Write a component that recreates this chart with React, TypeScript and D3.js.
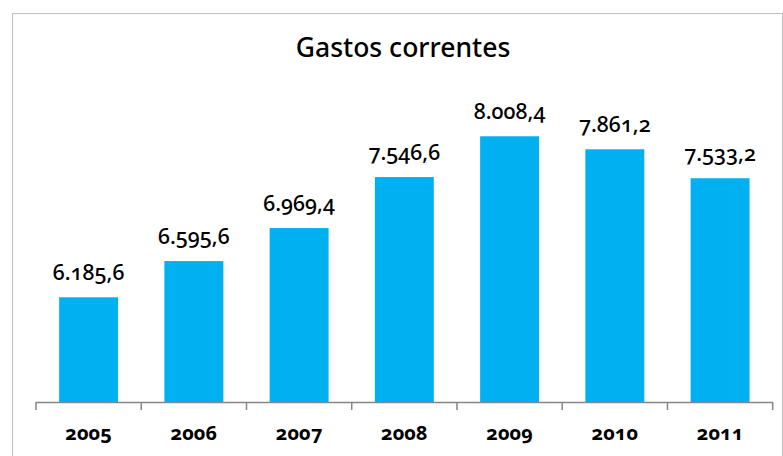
import React from "react";
import * as d3 from "d3";

const years: string[] = ["2005", "2006", "2007", "2008", "2009", "2010", "2011"];
const values: number[] = [6185.6, 6595.6, 6969.4, 7546.6, 8008.4, 7861.2, 7533.2];
const yDomain: [number, number] = [5000, 9000];
const title = "Gastos correntes";

const W = 783;
const H = 456;

const locale = d3.formatLocale({ decimal: ",", thousands: ".", grouping: [3], currency: ["", ""] });
const fmt = locale.format(",.1f");

export default function App() {
  const x = d3.scaleBand<string>().domain(years).range([36, 772.7]).paddingInner(0.44).paddingOuter(0.22);
  const y = d3.scaleLinear().domain(yDomain).range([402, 48.7]);
  const baseY = 402;
  const edges = [...years.map((yr) => (x(yr) as number) - (x.step() * x.paddingInner()) / 2), 772.7];
  const font = "'Noto Sans', sans-serif";
  return (
    <svg width={W} height={H} style={{ position: "absolute", left: 0, top: 0 }} fontFamily={font}>
      <rect x={0} y={0} width={W} height={H} fill="#fff" />
      <rect x={12.5} y={13.5} width={770} height={470} fill="none" stroke="#BFBFBF" strokeWidth={1} />
      <text x={403} y={57} textAnchor="middle" fontSize={26.5} fontWeight={500} fill="#000" style={{ fontVariantNumeric: "oldstyle-nums" }}>
        {title}
      </text>
      {years.map((yr, i) => (
        <rect key={yr} x={x(yr)} y={y(values[i])} width={x.bandwidth()} height={baseY - y(values[i])} fill="#00B0F0" />
      ))}
      <line x1={36} x2={772.7} y1={baseY + 0.5} y2={baseY + 0.5} stroke="#868686" strokeWidth={1.5} />
      {edges.map((e, i) => (
        <line key={i} x1={e} x2={e} y1={baseY} y2={baseY + 8} stroke="#868686" strokeWidth={1.5} />
      ))}
      {years.map((yr, i) => (
        <text
          key={"v" + yr}
          x={(x(yr) as number) + x.bandwidth() / 2}
          y={y(values[i]) - 17}
          textAnchor="middle"
          fontSize={21.5}
          fontWeight={500}
          fill="#000"
          style={{ fontVariantNumeric: "oldstyle-nums" }}
        >
          {fmt(values[i])}
        </text>
      ))}
      {years.map((yr) => (
        <text
          key={"l" + yr}
          x={(x(yr) as number) + x.bandwidth() / 2}
          y={440}
          textAnchor="middle"
          fontSize={20}
          fontWeight={700}
          fill="#000"
          style={{ fontVariantNumeric: "oldstyle-nums" }}
        >
          {yr}
        </text>
      ))}
    </svg>
  );
}
